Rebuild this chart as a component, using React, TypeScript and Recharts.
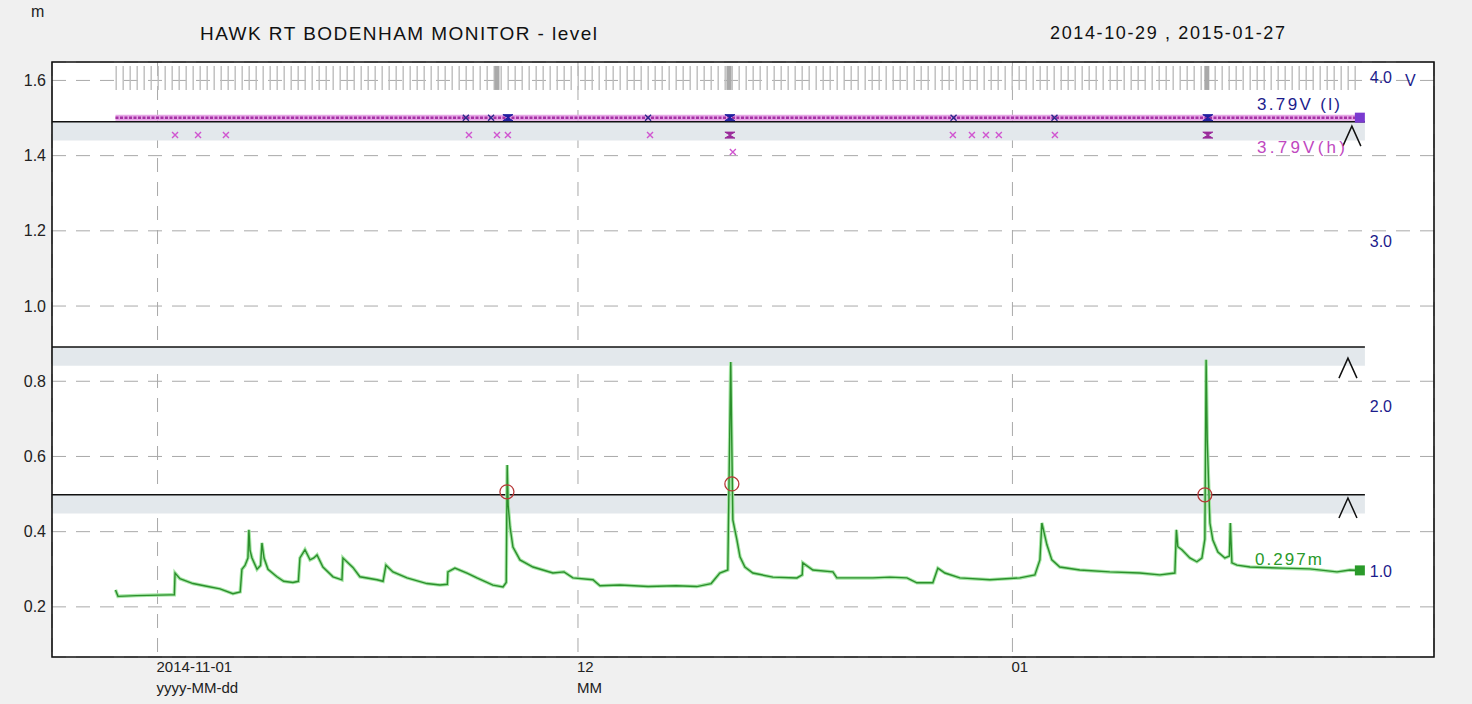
import React from 'react';
import {
  ComposedChart, Line, Scatter, XAxis, YAxis, CartesianGrid, ReferenceLine, ReferenceArea,
} from 'recharts';

// time axis: days since 2014-10-29 00:00
const levelDays = [
  0, 0.18, 1.5, 3.89, 4.2, 4.25, 4.6, 5.53, 6.5, 7.46, 8.38, 8.9, 9.02, 9.24, 9.45, 9.52, 9.6, 9.74,
  10.1, 10.35, 10.45, 10.6, 10.88, 11.52, 12.0, 12.66, 13.05, 13.16, 13.52, 13.88, 14.15, 14.38, 14.8,
  15.52, 16.16, 16.23, 16.94, 17.44, 18.66, 19.09, 19.3, 19.8, 20.8, 22.22, 23.15, 23.68, 23.72, 24.22,
  25.08, 25.79, 26.93, 27.65, 27.88, 27.95, 28.02, 28.15, 28.36, 28.86, 29.79, 31.21, 32.0, 32.64,
  34.07, 34.57, 36.0, 38.0, 40.0, 41.48, 42.5, 43.12, 43.69, 43.9, 43.96, 44.05, 44.34, 44.56, 44.91,
  45.48, 46.91, 48.62, 49.0, 49.04, 49.76, 51.19, 51.47, 54.04, 55.25, 56.47, 57.18, 58.32, 58.68,
  59.18, 60.25, 62.39, 64.53, 65.6, 65.96, 66.1, 66.46, 66.81, 67.38, 68.81, 70.95, 73.09, 74.52,
  75.59, 75.7, 75.8, 76.09, 76.66, 77.16, 77.52, 77.73, 77.82, 77.9, 78.09, 78.3, 78.66, 79.16, 79.48,
  79.55, 79.66, 80.02, 80.95, 83.3, 85.23, 87.16, 88.08, 88.79,
];
const levelValues = [
  0.245, 0.228, 0.23, 0.232, 0.232, 0.29, 0.275, 0.262, 0.255, 0.248, 0.235, 0.24, 0.3, 0.31, 0.33, 0.405, 0.35, 0.33,
  0.3, 0.31, 0.37, 0.33, 0.3, 0.28, 0.268, 0.265, 0.268, 0.33, 0.352, 0.325, 0.33, 0.338, 0.306,
  0.28, 0.272, 0.33, 0.305, 0.28, 0.272, 0.268, 0.311, 0.293, 0.277, 0.262, 0.258, 0.26, 0.293, 0.303,
  0.29, 0.277, 0.258, 0.253, 0.265, 0.577, 0.47, 0.413, 0.359, 0.325, 0.306, 0.29, 0.293, 0.277,
  0.272, 0.256, 0.258, 0.254, 0.256, 0.254, 0.262, 0.29, 0.298, 0.851, 0.677, 0.431, 0.378, 0.333, 0.306,
  0.29, 0.279, 0.277, 0.285, 0.317, 0.298, 0.293, 0.277, 0.277, 0.279, 0.277, 0.264, 0.264, 0.303,
  0.29, 0.277, 0.272, 0.277, 0.285, 0.325, 0.423, 0.365, 0.325, 0.306, 0.298, 0.293, 0.29, 0.285,
  0.29, 0.405, 0.36, 0.352, 0.33, 0.32, 0.33, 0.38, 0.857, 0.643, 0.423, 0.378, 0.346, 0.33, 0.335,
  0.423, 0.317, 0.311, 0.306, 0.303, 0.301, 0.293, 0.298, 0.297,
];

// battery voltage rows (right axis)
const voltDays = [0, 88.79];
const voltLow = [3.79, 3.79];
const lowMarkDays = [25.0, 26.8, 38.0, 59.8, 67.0];
const lowHeavyDays = [28.0, 43.84, 77.94];
const highMarkDays = [4.25, 5.89, 7.88, 25.22, 27.22, 28.0, 38.14, 44.05, 59.75, 61.11, 62.11, 63.03, 67.03];
const highMarkValues = [3.684, 3.684, 3.684, 3.684, 3.684, 3.684, 3.684, 3.581, 3.684, 3.684, 3.684, 3.684, 3.684];
const highHeavyDays = [43.84, 77.94];
const highHeavyValues = [3.684, 3.684];

// communication poll strip along the top
const pollDays = [0, 88.79];
const pollLevel = [1.6066, 1.6066];
const pollHeavyDays = [27.22, 43.77, 77.87];

// alarm thresholds (m) and their bands
const thresholds = [1.49, 0.891, 0.498];
const bandDepth = 0.05;
const caretDays = [88.22, 87.94, 87.94];
const caretValues = [1.452, 0.835, 0.463];
const crossingDays = [27.93, 43.98, 77.73];
const crossingValues = [0.506, 0.527, 0.498];

const xTicks = [3, 33, 64];
const xTickLabels = ['2014-11-01', '12', '01'];
const xTickFormats = ['yyyy-MM-dd', 'MM', ''];
const levelTicks = [0.2, 0.4, 0.6, 0.8, 1.0, 1.2, 1.4, 1.6];
const voltTicks = [1, 2, 3, 4];

const X_MIN = -4.53;
const X_MAX = 94.08;
const LINE_END = 89.15;
const M_DOMAIN: [number, number] = [0.0667, 1.649];
const V_DOMAIN: [number, number] = [0.515, 4.128];

const FONT = '"Liberation Sans", Arial, sans-serif';

const levelData = levelDays.map((day, i) => ({ day, level: levelValues[i] }));
const voltData = voltDays.map((day, i) => ({ day, v: voltLow[i] }));
const pollData = pollDays.map((day, i) => ({ day, p: pollLevel[i] }));
const lowMarks = lowMarkDays.map(day => ({ day, v: voltLow[0] }));
const lowHeavy = lowHeavyDays.map(day => ({ day, v: voltLow[0] }));
const highMarks = highMarkDays.map((day, i) => ({ day, v: highMarkValues[i] }));
const highHeavy = highHeavyDays.map((day, i) => ({ day, v: highHeavyValues[i] }));
const pollHeavy = pollHeavyDays.map(day => ({ day, p: pollLevel[0] }));
const carets = caretDays.map((day, i) => ({ day, level: caretValues[i] }));
const crossings = crossingDays.map((day, i) => ({ day, level: crossingValues[i] }));
const endLevel = [{ day: levelDays[levelDays.length - 1], level: levelValues[levelValues.length - 1] }];
const endVolt = [{ day: voltDays[voltDays.length - 1], v: voltLow[voltLow.length - 1] }];

const LevelTick = ({ x, y, payload }: any) => (
  <text x={x} y={y} textAnchor="end" dominantBaseline="central" fontSize={16} fill="#222" fontFamily={FONT}>
    {Number(payload.value).toFixed(1)}
  </text>
);

const VoltTick = ({ x, y, payload }: any) => (
  <g>
    <text x={x - 42} y={y - 6} textAnchor="end" dominantBaseline="central" fontSize={16} fill="#1c1c8c" fontFamily={FONT}>
      {Number(payload.value).toFixed(1)}
    </text>
    {payload.value === 4 && (
      <text x={x - 29} y={y - 3} textAnchor="start" dominantBaseline="central" fontSize={16} fill="#1c1c8c" fontFamily={FONT}>V</text>
    )}
  </g>
);

const DateTick = ({ x, y, payload }: any) => {
  const i = xTicks.indexOf(payload.value);
  return (
    <g>
      <text x={x - 1} y={y} textAnchor="start" dominantBaseline="central" fontSize={15} fill="#222" fontFamily={FONT}>
        {xTickLabels[i]}
      </text>
      {xTickFormats[i] && (
        <text x={x - 1} y={y + 21} textAnchor="start" dominantBaseline="central" fontSize={15} fill="#222" fontFamily={FONT}>
          {xTickFormats[i]}
        </text>
      )}
    </g>
  );
};

const Cross = ({ cx, cy }: any) => (
  <path d={`M${cx - 3},${cy - 3}L${cx + 3},${cy + 3}M${cx + 3},${cy - 3}L${cx - 3},${cy + 3}`} stroke="#d055d0" strokeWidth={1.4} />
);
const DarkCross = ({ cx, cy }: any) => (
  <path d={`M${cx - 3},${cy - 3}L${cx + 3},${cy + 3}M${cx + 3},${cy - 3}L${cx - 3},${cy + 3}`} stroke="#2a2a8a" strokeWidth={1.4} />
);
const Hourglass = ({ cx, cy, fill }: any) => (
  <path d={`M${cx - 5},${cy - 3}L${cx + 5},${cy - 3}L${cx - 5},${cy + 3}L${cx + 5},${cy + 3}Z`} fill={fill} stroke={fill} strokeWidth={1} />
);
const PollBar = ({ cx, cy }: any) => (
  <rect x={cx - 2.5} y={cy - 12} width={5} height={24} fill="#a9a9a9" />
);
const Caret = ({ cx, cy }: any) => (
  <path d={`M${cx - 9},${cy + 10}L${cx},${cy - 10}L${cx + 9},${cy + 10}`} fill="none" stroke="#111" strokeWidth={1.5} />
);
const Ring = ({ cx, cy }: any) => (
  <circle cx={cx} cy={cy} r={7} fill="none" stroke="#b83a3a" strokeWidth={1.3} />
);
const Square = ({ cx, cy, fill }: any) => (
  <rect x={cx - 5} y={cy - 5} width={10} height={10} fill={fill} />
);

export default function App() {
  return (
    <div style={{ position: 'absolute', left: 0, top: 0, width: 1472, height: 704, background: '#f0f0f0', overflow: 'hidden' }}>
      <ComposedChart width={1472} height={704} margin={{ top: 62, right: 0, bottom: 0, left: 0 }}>
        <CartesianGrid yAxisId="m" fill="#fff" stroke="#a9a9a9" strokeDasharray="14 10" />
        <XAxis dataKey="day" type="number" domain={[X_MIN, X_MAX]} allowDataOverflow ticks={xTicks}
          height={47} tickSize={0} tickMargin={9} axisLine={false} tickLine={false} tick={<DateTick />} />
        <YAxis yAxisId="m" type="number" domain={M_DOMAIN} allowDataOverflow ticks={levelTicks}
          width={52} tickSize={0} tickMargin={6} axisLine={false} tickLine={false} tick={<LevelTick />} />
        <YAxis yAxisId="v" orientation="right" type="number" domain={V_DOMAIN} allowDataOverflow ticks={voltTicks}
          width={38} tickSize={0} tickMargin={0} axisLine={false} tickLine={false} tick={<VoltTick />} />

        {thresholds.map(t => (
          <ReferenceArea key={`band-${t}`} yAxisId="m" x1={X_MIN} x2={LINE_END} y1={t - bandDepth} y2={t}
            fill="#e3e8ec" fillOpacity={1} stroke="none" ifOverflow="visible" />
        ))}
        {thresholds.map(t => (
          <ReferenceLine key={`thr-${t}`} yAxisId="m" segment={[{ x: X_MIN, y: t }, { x: LINE_END, y: t }]}
            stroke="#111" strokeWidth={1.6} ifOverflow="visible" />
        ))}

        <Line data={pollData} dataKey="p" yAxisId="m" stroke="#bdbdbd" strokeWidth={24} strokeDasharray="1.4 5.6"
          dot={false} activeDot={false} isAnimationActive={false} />
        <Scatter data={pollHeavy} dataKey="p" yAxisId="m" shape={<PollBar />} isAnimationActive={false} />

        <Line data={voltData} dataKey="v" yAxisId="v" stroke="#e6a6e6" strokeWidth={6}
          dot={false} activeDot={false} isAnimationActive={false} />
        <Line data={voltData} dataKey="v" yAxisId="v" stroke="#a432a4" strokeWidth={2.5} strokeDasharray="3 1.5"
          dot={false} activeDot={false} isAnimationActive={false} />
        <Scatter data={lowMarks} dataKey="v" yAxisId="v" shape={<DarkCross />} isAnimationActive={false} />
        <Scatter data={lowHeavy} dataKey="v" yAxisId="v" shape={<Hourglass fill="#2020a0" />} isAnimationActive={false} />
        <Scatter data={highMarks} dataKey="v" yAxisId="v" shape={<Cross />} isAnimationActive={false} />
        <Scatter data={highHeavy} dataKey="v" yAxisId="v" shape={<Hourglass fill="#9a2a9a" />} isAnimationActive={false} />

        <Line data={levelData} dataKey="level" yAxisId="m" stroke="#a6e6a6" strokeWidth={3.5}
          dot={false} activeDot={false} isAnimationActive={false} />
        <Line data={levelData} dataKey="level" yAxisId="m" stroke="#2c8f2c" strokeWidth={1.4}
          dot={false} activeDot={false} isAnimationActive={false} />

        <Scatter data={crossings} dataKey="level" yAxisId="m" shape={<Ring />} isAnimationActive={false} />
        <Scatter data={carets} dataKey="level" yAxisId="m" shape={<Caret />} isAnimationActive={false} />
        <Scatter data={endLevel} dataKey="level" yAxisId="m" shape={<Square fill="#2a9a2a" />} isAnimationActive={false} />
        <Scatter data={endVolt} dataKey="v" yAxisId="v" shape={<Square fill="#7a3ad0" />} isAnimationActive={false} />

        <ReferenceArea yAxisId="m" x1={X_MIN} x2={X_MAX} y1={M_DOMAIN[0]} y2={M_DOMAIN[1]}
          fill="none" stroke="#111" strokeWidth={1.6} ifOverflow="visible" />
      </ComposedChart>

      <svg width={1472} height={704} style={{ position: 'absolute', left: 0, top: 0, pointerEvents: 'none' }}>
        <g fontFamily={FONT} dominantBaseline="central">
          <text x={31} y={11} fontSize={16} fill="#222">m</text>
          <text x={200} y={33} fontSize={19} fill="#111" textLength={397} lengthAdjust="spacing">HAWK RT BODENHAM MONITOR - level</text>
          <text x={1050} y={33} fontSize={18} fill="#111" textLength={235} lengthAdjust="spacing">2014-10-29 , 2015-01-27</text>
          <text x={1257} y={104} fontSize={17} fill="#1c1c8c" textLength={83} lengthAdjust="spacing">3.79V (l)</text>
          <text x={1257} y={147} fontSize={17} fill="#c048c0" textLength={88} lengthAdjust="spacing">3.79V(h)</text>
          <text x={1255} y={559} fontSize={17} fill="#2a9a2a" textLength={67} lengthAdjust="spacing">0.297m</text>
        </g>
      </svg>
    </div>
  );
}
